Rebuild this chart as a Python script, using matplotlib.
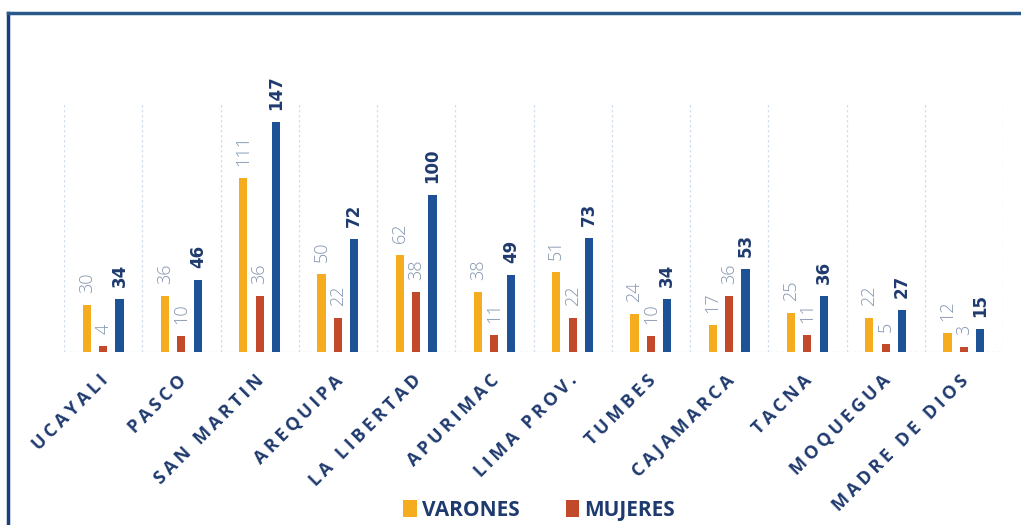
import matplotlib.pyplot as plt
import matplotlib.lines as mlines
import numpy as np

# Datos por departamento
departamentos = ['UCAYALI', 'PASCO', 'SAN MARTIN', 'AREQUIPA', 'LA LIBERTAD', 'APURIMAC',
                 'LIMA PROV.', 'TUMBES', 'CAJAMARCA', 'TACNA', 'MOQUEGUA', 'MADRE DE DIOS']
varones = [30, 36, 111, 50, 62, 38, 51, 24, 17, 25, 22, 12]
mujeres = [4, 10, 36, 22, 38, 11, 22, 10, 36, 11, 5, 3]
total = [34, 46, 147, 72, 100, 49, 73, 34, 53, 36, 27, 15]

c_var = '#f5ac1f'
c_muj = '#c2492a'
c_tot = '#1d5297'
c_txt = '#1f3a6e'
c_lbl = '#8496b0'
c_grid = '#d3deec'

fig = plt.figure(figsize=(10.21, 5.25), dpi=100)
ax = fig.add_axes([64 / 1021, 1 - 352 / 525, 939 / 1021, 249 / 525])

x = np.arange(len(departamentos))
ancho = 0.105
sep = 0.21

b1 = ax.bar(x - sep, varones, ancho, color=c_var, label='VARONES', zorder=3)
b2 = ax.bar(x, mujeres, ancho, color=c_muj, label='MUJERES', zorder=3)
b3 = ax.bar(x + sep, total, ancho, color=c_tot, zorder=3)

for barras, estilo in ((b1, 'n'), (b2, 'n'), (b3, 'b')):
    for r in barras:
        v = r.get_height()
        if estilo == 'b':
            ax.annotate(str(int(v)), (r.get_x() + r.get_width() / 2, v), xytext=(0, 12),
                        textcoords='offset pixels', rotation=90, ha='center', va='bottom',
                        fontsize=12, fontweight='bold', color=c_txt, family=['DejaVu Sans'])
        else:
            ax.annotate(str(int(v)), (r.get_x() + r.get_width() / 2, v), xytext=(0, 12),
                        textcoords='offset pixels', rotation=90, ha='center', va='bottom',
                        fontsize=13, fontweight='light', color=c_lbl, family=['Open Sans', 'DejaVu Sans'])

ax.set_xlim(-0.5, len(departamentos) - 0.5)
ax.set_ylim(0, 159)

# lineas verticales punteadas entre categorias
for k in range(len(departamentos) + 1):
    ax.axvline(k - 0.5, color=c_grid, lw=0.9, ls=(0, (2, 2)), zorder=1)
ax.axhline(0, color=c_grid, lw=1.0, ls=(0, (2, 2)), zorder=2)

for s in ax.spines.values():
    s.set_visible(False)
ax.set_xticks([])
ax.set_yticks([])

# etiquetas de categoria a 45 grados
for i, d in enumerate(departamentos):
    txt = '\u2009'.join(d)
    ax.annotate(txt, (i, 0), xytext=(2, -26), textcoords='offset pixels',
                rotation=45, rotation_mode='anchor', ha='right', va='center',
                fontsize=13, fontweight='bold', color=c_txt, family=['Open Sans', 'DejaVu Sans'],
                annotation_clip=False)

leg = fig.legend(handles=[b1, b2], loc='center', bbox_to_anchor=(0.528, 0.028), ncol=2,
                 frameon=False, handlelength=0.65, handleheight=0.85, handletextpad=0.25,
                 columnspacing=2.2, prop={'family': 'Open Sans', 'weight': 'bold', 'size': 15})
for t in leg.get_texts():
    t.set_color(c_txt)

# marco del recuadro
fig.add_artist(mlines.Line2D([8 / 1021, 8 / 1021], [0, 1 - 13 / 525], color='#1b3f7a', lw=2.5,
                             transform=fig.transFigure))
fig.add_artist(mlines.Line2D([8 / 1021, 1], [1 - 13 / 525, 1 - 13 / 525], color='#2a5a8c', lw=2.5,
                             transform=fig.transFigure))

fig.savefig('out.png', dpi=100)
